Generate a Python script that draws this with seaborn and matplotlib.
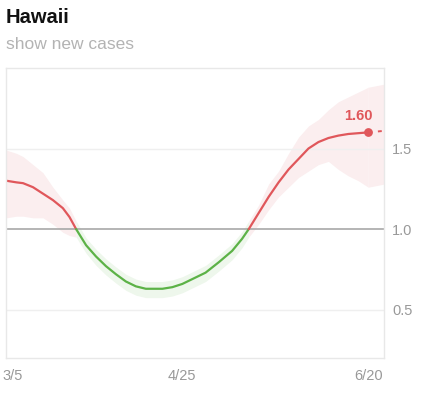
import pandas as pd
import matplotlib.pyplot as plt
import seaborn as sns

# Rt estimate for Hawaii
dates = ["2020-03-03", "2020-03-06", "2020-03-08", "2020-03-11", "2020-03-14",
         "2020-03-17", "2020-03-20", "2020-03-22", "2020-03-24",
         "2020-03-27", "2020-03-30", "2020-04-02", "2020-04-05", "2020-04-08",
         "2020-04-11", "2020-04-14", "2020-04-19", "2020-04-22", "2020-04-25",
         "2020-04-28", "2020-05-02", "2020-05-06", "2020-05-10", "2020-05-13",
         "2020-05-15",
         "2020-05-18", "2020-05-21", "2020-05-24", "2020-05-27", "2020-05-30",
         "2020-06-02", "2020-06-05", "2020-06-08", "2020-06-11", "2020-06-14",
         "2020-06-17", "2020-06-20"]
rt = [1.30, 1.29, 1.285, 1.26, 1.22, 1.18, 1.13, 1.075, 1.00,
      0.90, 0.83, 0.77, 0.72, 0.675, 0.645, 0.63, 0.63, 0.64, 0.66,
      0.69, 0.73, 0.795, 0.865, 0.94, 1.00,
      1.10, 1.20, 1.29, 1.37, 1.435, 1.50, 1.54, 1.565, 1.58, 1.59,
      1.595, 1.60]
rt_low = [1.07, 1.08, 1.08, 1.07, 1.07, 1.03, 0.98, 0.96, 0.95,
          0.85, 0.775, 0.715, 0.665, 0.62, 0.59, 0.575, 0.575, 0.585, 0.605,
          0.635, 0.675, 0.74, 0.81, 0.885, 0.95,
          1.03, 1.12, 1.20, 1.26, 1.32, 1.36, 1.40, 1.42, 1.37, 1.33,
          1.30, 1.26]
rt_high = [1.49, 1.47, 1.45, 1.40, 1.35, 1.26, 1.18, 1.13, 1.05,
           0.945, 0.875, 0.815, 0.765, 0.72, 0.69, 0.675, 0.675, 0.685, 0.705,
           0.735, 0.775, 0.84, 0.91, 0.985, 1.05,
           1.15, 1.28, 1.36, 1.47, 1.57, 1.64, 1.68, 1.74, 1.79, 1.82,
           1.85, 1.88]

# short projection past the last estimate
proj_dates = ["2020-06-20", "2020-06-25"]
proj_rt = [1.60, 1.61]
proj_low = [1.26, 1.28]
proj_high = [1.88, 1.90]

tick_dates = ["2020-03-05", "2020-04-25", "2020-06-20"]
tick_labels = ["3/5", "4/25", "6/20"]

df = pd.DataFrame({"date": pd.to_datetime(dates), "rt": rt,
                   "low": rt_low, "high": rt_high})
proj = pd.DataFrame({"date": pd.to_datetime(proj_dates), "rt": proj_rt,
                     "low": proj_low, "high": proj_high})

RED = "#e0575b"
GREEN = "#5cb247"
PINK_BAND = "#fbeeef"
GREEN_BAND = "#eef7ec"

sns.set_style("white")
plt.rcParams["font.family"] = ["Liberation Sans", "DejaVu Sans"]

fig = plt.figure(figsize=(4.3, 3.97), dpi=100)
ax = fig.add_axes([0.014, 0.098, 0.879, 0.731])

# split into above / below 1 segments
d1 = pd.Timestamp("2020-03-24")
d2 = pd.Timestamp("2020-05-15")
seg1 = df[df["date"] <= d1]
seg2 = df[(df["date"] >= d1) & (df["date"] <= d2)]
seg3 = df[df["date"] >= d2]

# confidence bands
for seg, col in [(seg1, PINK_BAND), (seg2, GREEN_BAND), (seg3, PINK_BAND)]:
    ax.fill_between(seg["date"], seg["low"], seg["high"], color=col, lw=0)
ax.fill_between(proj["date"], proj["low"], proj["high"], color=PINK_BAND, lw=0)

# reference lines
for y in [0.5, 1.5]:
    ax.axhline(y, color="#efefef", lw=1, zorder=1)
ax.axhline(1.0, color="#a8a8a8", lw=1.2, zorder=2)

# Rt line
sns.lineplot(data=seg1, x="date", y="rt", color=RED, lw=1.6, ax=ax)
sns.lineplot(data=seg2, x="date", y="rt", color=GREEN, lw=1.6, ax=ax)
sns.lineplot(data=seg3, x="date", y="rt", color=RED, lw=1.6, ax=ax)
sns.lineplot(data=proj, x="date", y="rt", color=RED, lw=1.4, ax=ax,
             linestyle=(0, (2, 3)))

last = df.iloc[-1]
ax.scatter([last["date"]], [last["rt"]], color=RED, s=28, zorder=5)
ax.annotate(f"{last['rt']:.2f}", (last["date"], last["rt"]),
            xytext=(3, 7), textcoords="offset points",
            ha="right", va="bottom", color=RED, fontsize=10.5,
            fontweight="bold")

ax.set_xlim(pd.Timestamp("2020-03-02 21:00"), pd.Timestamp("2020-06-24 18:00"))
ax.set_ylim(0.2, 2.0)

ax.yaxis.tick_right()
ax.set_yticks([0.5, 1.0, 1.5])
ax.set_yticklabels(["0.5", "1.0", "1.5"])
ax.set_xticks(pd.to_datetime(tick_dates))
ax.set_xticklabels(tick_labels)
ax.tick_params(length=0, colors="#999999", labelsize=10.5)
ax.tick_params(axis="y", pad=6)
ax.tick_params(axis="x", pad=8)
ax.set_xlabel("")
ax.set_ylabel("")

for s in ax.spines.values():
    s.set_color("#e8e8e8")
    s.set_linewidth(1)

fig.text(0.014, 0.955, "Hawaii", fontsize=14.5, fontweight="bold",
         color="#111111", va="center", ha="left")
fig.text(0.014, 0.887, "show new cases", fontsize=12.5, color="#b3b3b3",
         va="center", ha="left")

plt.savefig("out.png", dpi=100)
